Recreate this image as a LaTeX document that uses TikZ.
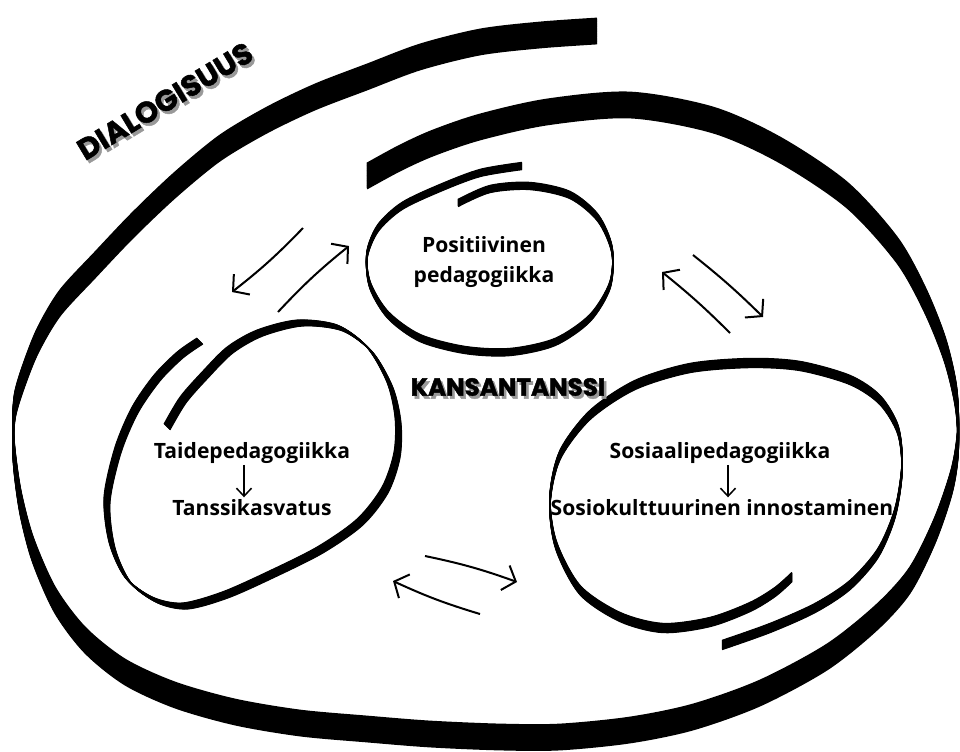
\documentclass[tikz,border=0pt]{standalone}
\usepackage{fontspec}
\setmainfont{Open Sans}
\newfontfamily\titlefont{Poppins}[BoldFeatures={FakeBold=1.6}]
\usetikzlibrary{arrows.meta,calc}
% stroke drawn with a flat nib: many copies of the path, shifted along the nib
\newcommand{\nibline}[5][]{%
  \foreach \i in {0,...,#2}{%
    \pgfmathsetmacro{\off}{(\i/#2-0.5)*#4}
    \draw[pen,#1,shift={(#3:\off)}] plot[smooth] coordinates {#5};
  }%
}

\begin{document}
\begin{tikzpicture}[x=0.025cm,y=-0.025cm,
    pen/.style={line width=0.05cm,line cap=butt,line join=round},
    lbl/.style={font=\fontsize{15}{21.3}\selectfont\bfseries,inner sep=1pt,align=center},
    ttl/.style={font=\titlefont\fontsize{17.5}{20}\selectfont\bfseries,inner sep=0pt},
    swap/.style={line width=0.05cm,-{Straight Barb[length=0.28cm,width=0.65cm]}},
    down/.style={line width=0.0375cm,-{Straight Barb[length=0.2cm,width=0.375cm]}}]
  \fill[white] (0,0) rectangle (960,751);
  \useasboundingbox (0,0) rectangle (960,751);

  % dialogisuus spiral
  \nibline[line width=0.045cm]{30}{90}{25}{(597,31) (540,35) (480,42) (420,57) (367,77) (315,97)
    (267,120) (220,148) (175,185) (133,225) (95,265) (60,303) (38,340) (24,375) (15,405) (13,435)
    (15,465) (21,505) (33,550) (55,600) (85,640) (125,672) (175,695) (235,712) (300,723)
    (367,729) (430,734) (500,737) (560,737) (630,730) (693,717) (760,693) (827,657) (877,617)
    (910,580) (935,530) (952,480) (958,440) (956,397) (945,350) (925,300) (897,250) (847,195)
    (780,150) (713,120) (630,105) (547,112) (480,127) (433,143) (400,158) (367,176)}

  % positiivinen pedagogiikka
  \nibline[line width=0.035cm]{14}{90}{7}{(458,203) (490,189) (530,186) (570,195) (598,218)
    (612,250) (610,285) (590,318) (555,342) (510,352) (465,350) (420,338) (388,315) (370,285)
    (367,255) (378,228) (402,206) (440,188) (480,173) (522,166)}

  % taidepedagogiikka
  \nibline[line width=0.035cm]{16}{45}{8}{(200,341) (180,355) (157,378) (135,410) (118,450)
    (107,500) (112,545) (128,580) (155,600) (185,606) (225,595) (270,575) (320,550) (360,522)
    (385,490) (397,455) (398,420) (390,385) (370,350) (340,328) (300,323) (260,333) (230,350)
    (205,375) (183,400) (167,427)}

  % sosiaalipedagogiikka
  \nibline[line width=0.035cm]{18}{90}{9}{(722,645) (770,628) (815,608) (850,585) (878,553)
    (895,513) (902,468) (898,430) (880,400) (850,380) (800,366) (750,363) (690,368) (635,385)
    (590,415) (560,455) (550,500) (556,545) (580,590) (620,617) (663,628) (710,622) (750,607)
    (775,592) (792,577)}

  % titles with shadow
  \coordinate (dlgpos) at (165,101);
  \coordinate (kanpos) at (508,387);
  \node[ttl,text=black!40,rotate=31,font=\titlefont\fontsize{21}{24}\selectfont\bfseries]
    at ([shift={(2.5,3)}]dlgpos) {DIALOGISUUS};
  \node[ttl,text=black!40] at ([shift={(2.5,3)}]kanpos) {KANSANTANSSI};
  \node[ttl,rotate=31,font=\titlefont\fontsize{21}{24}\selectfont\bfseries] (dialog) at (dlgpos) {DIALOGISUUS};
  \node[ttl] (kansan) at (kanpos) {KANSANTANSSI};

  % labels
  \node[lbl] (posi) at (484,262) {Positiivinen\\pedagogiikka};
  \node[lbl,anchor=base] (taide) at (252,458) {Taidepedagogiikka};
  \node[lbl,anchor=base] (tanssi) at (252,515) {Tanssikasvatus};
  \node[lbl,anchor=base] (sosped) at (720,458) {Sosiaalipedagogiikka};
  \node[lbl,anchor=base] (sosku) at (722,515) {Sosiokulttuurinen innostaminen};

  \draw[down] ([xshift=-0.2cm]taide.south) -- ([xshift=-0.2cm]taide.south |- tanssi.north);
  \draw[down] ([xshift=0.2cm]sosped.south) -- ([xshift=0.2cm]sosped.south |- sosku.north);

  % arrows between the fields
  \coordinate (a1) at (303,228); \coordinate (a2) at (232,292);
  \coordinate (b1) at (278,312); \coordinate (b2) at (349,246);
  \coordinate (c1) at (730,333); \coordinate (c2) at (662,272);
  \coordinate (d1) at (693,255); \coordinate (d2) at (763,317);
  \coordinate (e1) at (425,556); \coordinate (e2) at (517,582);
  \coordinate (f1) at (480,614); \coordinate (f2) at (393,581);
  \draw[swap] (a1) to[bend left=4] (a2);
  \draw[swap] (b1) to[bend left=4] (b2);
  \draw[swap] (c1) to[bend right=3] (c2);
  \draw[swap] (d1) to[bend left=3] (d2);
  \draw[swap] (e1) to[bend left=4] (e2);
  \draw[swap] (f1) to[bend left=4] (f2);
\end{tikzpicture}
\end{document}
